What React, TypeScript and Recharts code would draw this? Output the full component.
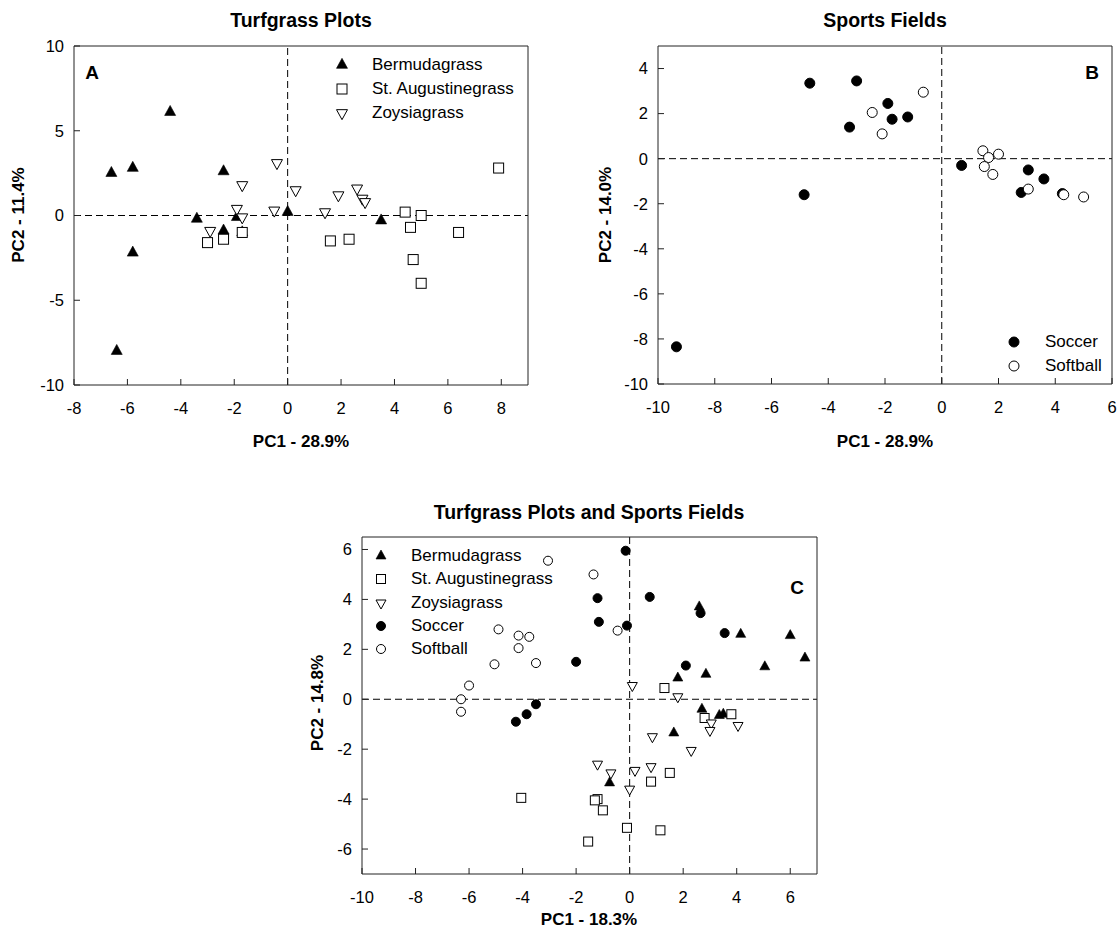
import React from 'react';
import { ScatterChart, Scatter, XAxis, YAxis, ReferenceLine } from 'recharts';

// panel A - turfgrass plots
const bermudaA: [number, number][] = [
  [-6.6, 2.5], [-5.8, 2.8], [-4.4, 6.1], [-2.4, 2.6], [-3.4, -0.2], [-1.9, -0.1],
  [-2.4, -0.9], [-1.7, -1.0], [-5.8, -2.2], [0, 0.2], [-6.4, -8.0], [3.5, -0.3],
];
const staugA: [number, number][] = [
  [-3.0, -1.6], [-2.4, -1.4], [-1.7, -1.0], [1.6, -1.5], [2.3, -1.4], [4.4, 0.2],
  [5.0, 0], [4.6, -0.7], [6.4, -1.0], [4.7, -2.6], [5.0, -4.0], [7.9, 2.8],
];
const zoysiaA: [number, number][] = [
  [-0.4, 3.1], [-1.7, 1.8], [-1.9, 0.4], [-1.7, -0.1], [-2.9, -0.9], [-0.5, 0.3],
  [0.3, 1.5], [1.9, 1.2], [2.6, 1.6], [2.8, 1.0], [2.9, 0.8], [1.4, 0.2],
];

// panel B - sports fields
const soccerB: [number, number][] = [
  [-4.65, 3.35], [-3.0, 3.45], [-3.25, 1.4], [-4.85, -1.6], [-9.35, -8.35], [-1.9, 2.45],
  [-1.75, 1.75], [-1.2, 1.85], [0.7, -0.3], [3.05, -0.5], [3.6, -0.9], [2.8, -1.5], [4.25, -1.55],
];
const softballB: [number, number][] = [
  [-0.65, 2.95], [-2.45, 2.05], [-2.1, 1.1], [1.45, 0.35], [1.65, 0.05], [2.0, 0.2],
  [1.5, -0.35], [1.8, -0.7], [3.05, -1.35], [4.3, -1.6], [5.0, -1.7],
];

// panel C - both
const bermudaC: [number, number][] = [
  [2.6, 3.7], [4.15, 2.6], [6.0, 2.55], [6.55, 1.65], [5.05, 1.3], [2.85, 1.0],
  [1.8, 0.85], [2.7, -0.4], [3.35, -0.65], [3.5, -0.6], [1.65, -1.35], [-0.75, -3.35],
];
const staugC: [number, number][] = [
  [1.3, 0.45], [3.8, -0.6], [2.8, -0.75], [1.5, -2.95], [0.8, -3.3], [-4.05, -3.95],
  [-1.2, -4.0], [-1.3, -4.05], [-1.0, -4.45], [-0.1, -5.15], [1.15, -5.25], [-1.55, -5.7],
];
const zoysiaC: [number, number][] = [
  [0.1, 0.55], [1.8, 0.1], [3.05, -0.95], [3.0, -1.25], [4.05, -1.05], [0.85, -1.5],
  [2.3, -2.05], [-1.2, -2.6], [-0.7, -2.95], [0.2, -2.85], [0.8, -2.7], [0.0, -3.6],
];
const soccerC: [number, number][] = [
  [-1.2, 4.05], [0.75, 4.1], [-1.15, 3.1], [-0.1, 2.95], [2.65, 3.45], [3.55, 2.65],
  [-2.0, 1.5], [2.1, 1.35], [-3.5, -0.2], [-3.85, -0.6], [-4.25, -0.9], [-0.15, 5.95],
];
const softballC: [number, number][] = [
  [-3.05, 5.55], [-1.35, 5.0], [-0.45, 2.75], [-4.9, 2.8], [-4.15, 2.55], [-3.75, 2.5],
  [-4.15, 2.05], [-5.05, 1.4], [-3.5, 1.45], [-6.0, 0.55], [-6.3, 0], [-6.3, -0.5],
];

const ticksA_x = [-8, -6, -4, -2, 0, 2, 4, 6, 8];
const ticksA_y = [-10, -5, 0, 5, 10];
const ticksB_x = [-10, -8, -6, -4, -2, 0, 2, 4, 6];
const ticksB_y = [-10, -8, -6, -4, -2, 0, 2, 4];
const ticksC_x = [-10, -8, -6, -4, -2, 0, 2, 4, 6];
const ticksC_y = [-6, -4, -2, 0, 2, 4, 6];

const FONT = '"Liberation Sans", Arial, sans-serif';
const toXY = (arr: [number, number][]) => arr.map(([x, y]) => ({ x, y }));

// marker drawers
type Mark = (cx: number, cy: number) => React.ReactElement;
const upTri = (w: number, h: number): Mark => (cx, cy) => (
  <polygon points={`${cx},${cy - (h * 2) / 3} ${cx - w / 2},${cy + h / 3} ${cx + w / 2},${cy + h / 3}`} fill="#000" stroke="#000" strokeWidth={0.6} />
);
const downTri = (w: number, h: number): Mark => (cx, cy) => (
  <polygon points={`${cx - w / 2},${cy - h / 3} ${cx + w / 2},${cy - h / 3} ${cx},${cy + (h * 2) / 3}`} fill="#fff" stroke="#000" strokeWidth={1} />
);
const square = (s: number): Mark => (cx, cy) => (
  <rect x={cx - s / 2} y={cy - s / 2} width={s} height={s} fill="#fff" stroke="#000" strokeWidth={1} />
);
const dot = (r: number, filled: boolean): Mark => (cx, cy) => (
  <circle cx={cx} cy={cy} r={r} fill={filled ? '#000' : '#fff'} stroke="#000" strokeWidth={1} />
);

const shapeOf = (m: Mark) => (p: any) => m(p.cx, p.cy);

type Series = { name: string; data: [number, number][]; mark: Mark };
type Box = { l: number; t: number; r: number; b: number };

function Panel({ plot, xDomain, xTicks, yDomain, yTicks, series }: {
  plot: Box; xDomain: [number, number]; xTicks: number[]; yDomain: [number, number]; yTicks: number[]; series: Series[];
}) {
  const padL = 70, padT = 10, padR = 10, padB = 50;
  const w = plot.r - plot.l + padL + padR;
  const h = plot.b - plot.t + padT + padB;
  const axisCol = '#222';
  return (
    <div style={{ position: 'absolute', left: plot.l - padL, top: plot.t - padT }}>
      <ScatterChart width={w} height={h} margin={{ top: padT - 1, right: padR - 1, bottom: 0, left: 0 }}>
        <XAxis xAxisId="b" type="number" dataKey="x" domain={xDomain} ticks={xTicks} interval={0}
          allowDataOverflow orientation="bottom" height={padB} tickSize={-6} tickMargin={23}
          stroke={axisCol} tick={{ fill: '#000', fontSize: 16.5 }} />
        <XAxis xAxisId="t" type="number" dataKey="x" domain={xDomain} ticks={xTicks} interval={0}
          allowDataOverflow orientation="top" height={1} tickSize={-6} tick={false} stroke={axisCol} />
        <YAxis yAxisId="l" type="number" dataKey="y" domain={yDomain} ticks={yTicks} interval={0}
          allowDataOverflow orientation="left" width={padL} tickSize={-6} tickMargin={16}
          stroke={axisCol} tick={{ fill: '#000', fontSize: 16.5 }} />
        <YAxis yAxisId="r" type="number" dataKey="y" domain={yDomain} ticks={yTicks} interval={0}
          allowDataOverflow orientation="right" width={1} tickSize={-6} tick={false} stroke={axisCol} />
        <ReferenceLine xAxisId="b" yAxisId="l" x={0} stroke="#000" strokeDasharray="7 4" />
        <ReferenceLine xAxisId="b" yAxisId="l" y={0} stroke="#000" strokeDasharray="7 4" />
        {/* keeps the top and right frame axes bound to data */}
        <Scatter name="frame" xAxisId="t" yAxisId="r" data={toXY(series[0].data)}
          shape={() => <g />} isAnimationActive={false} legendType="none" />
        {series.map((s) => (
          <Scatter key={s.name} name={s.name} xAxisId="b" yAxisId="l" data={toXY(s.data)}
            shape={shapeOf(s.mark)} isAnimationActive={false} />
        ))}
      </ScatterChart>
    </div>
  );
}

function Legend({ x, textX, y0, step, items }: { x: number; textX: number; y0: number; step: number; items: Series[] }) {
  return (
    <>
      {items.map((it, i) => {
        const cy = y0 + i * step;
        return (
          <React.Fragment key={it.name}>
            <svg style={{ position: 'absolute', left: x - 10, top: cy - 10 }} width={20} height={20}>
              {it.mark(10, 10)}
            </svg>
            <div style={{ position: 'absolute', left: textX, top: cy - 12, lineHeight: '24px', fontSize: 17, whiteSpace: 'nowrap' }}>
              {it.name}
            </div>
          </React.Fragment>
        );
      })}
    </>
  );
}

function Txt({ x, y, children, size = 17, bold = true, rotate = false }: any) {
  return (
    <div style={{
      position: 'absolute', left: x, top: y, fontSize: size, fontWeight: bold ? 'bold' : 'normal',
      whiteSpace: 'nowrap', transform: `translate(-50%, -50%)${rotate ? ' rotate(-90deg)' : ''}`,
    }}>{children}</div>
  );
}

export default function App() {
  const bigTriUp = upTri(11, 10), bigTriDown = downTri(11, 10), bigSq = square(10);
  const smTriUp = upTri(10, 9), smTriDown = downTri(10, 9), smSq = square(9);

  const seriesA: Series[] = [
    { name: 'Bermudagrass', data: bermudaA, mark: bigTriUp },
    { name: 'St. Augustinegrass', data: staugA, mark: bigSq },
    { name: 'Zoysiagrass', data: zoysiaA, mark: bigTriDown },
  ];
  const seriesB: Series[] = [
    { name: 'Soccer', data: soccerB, mark: dot(5, true) },
    { name: 'Softball', data: softballB, mark: dot(5, false) },
  ];
  const seriesC: Series[] = [
    { name: 'Bermudagrass', data: bermudaC, mark: smTriUp },
    { name: 'St. Augustinegrass', data: staugC, mark: smSq },
    { name: 'Zoysiagrass', data: zoysiaC, mark: smTriDown },
    { name: 'Soccer', data: soccerC, mark: dot(4.5, true) },
    { name: 'Softball', data: softballC, mark: dot(4.5, false) },
  ];

  return (
    <div style={{ position: 'absolute', left: 0, top: 0, width: 1120, height: 938, background: '#fff', fontFamily: FONT, color: '#000' }}>
      <Panel plot={{ l: 74, t: 46, r: 528, b: 385 }} xDomain={[-8, 9]} xTicks={ticksA_x}
        yDomain={[-10, 10]} yTicks={ticksA_y} series={seriesA} />
      <Panel plot={{ l: 658, t: 46, r: 1112, b: 384 }} xDomain={[-10, 6]} xTicks={ticksB_x}
        yDomain={[-10, 5]} yTicks={ticksB_y} series={seriesB} />
      <Panel plot={{ l: 362, t: 537, r: 817, b: 874 }} xDomain={[-10, 7]} xTicks={ticksC_x}
        yDomain={[-7, 6.5]} yTicks={ticksC_y} series={seriesC} />

      <Legend x={342} textX={372} y0={65} step={24} items={seriesA} />
      <Legend x={1014} textX={1045} y0={342} step={24} items={seriesB} />
      <Legend x={381} textX={411} y0={556} step={23.3} items={seriesC} />

      <Txt x={301} y={20} size={19.5}>Turfgrass Plots</Txt>
      <Txt x={885} y={20} size={19.5}>Sports Fields</Txt>
      <Txt x={589} y={512} size={19.5}>Turfgrass Plots and Sports Fields</Txt>

      <Txt x={92} y={73} size={19}>A</Txt>
      <Txt x={1092} y={73} size={19}>B</Txt>
      <Txt x={797} y={588} size={19}>C</Txt>

      <Txt x={301} y={442}>PC1 - 28.9%</Txt>
      <Txt x={885} y={442}>PC1 - 28.9%</Txt>
      <Txt x={589} y={920}>PC1 - 18.3%</Txt>
      <Txt x={19} y={215} rotate>PC2 - 11.4%</Txt>
      <Txt x={606} y={215} rotate>PC2 - 14.0%</Txt>
      <Txt x={318} y={703} rotate>PC2 - 14.8%</Txt>
    </div>
  );
}
